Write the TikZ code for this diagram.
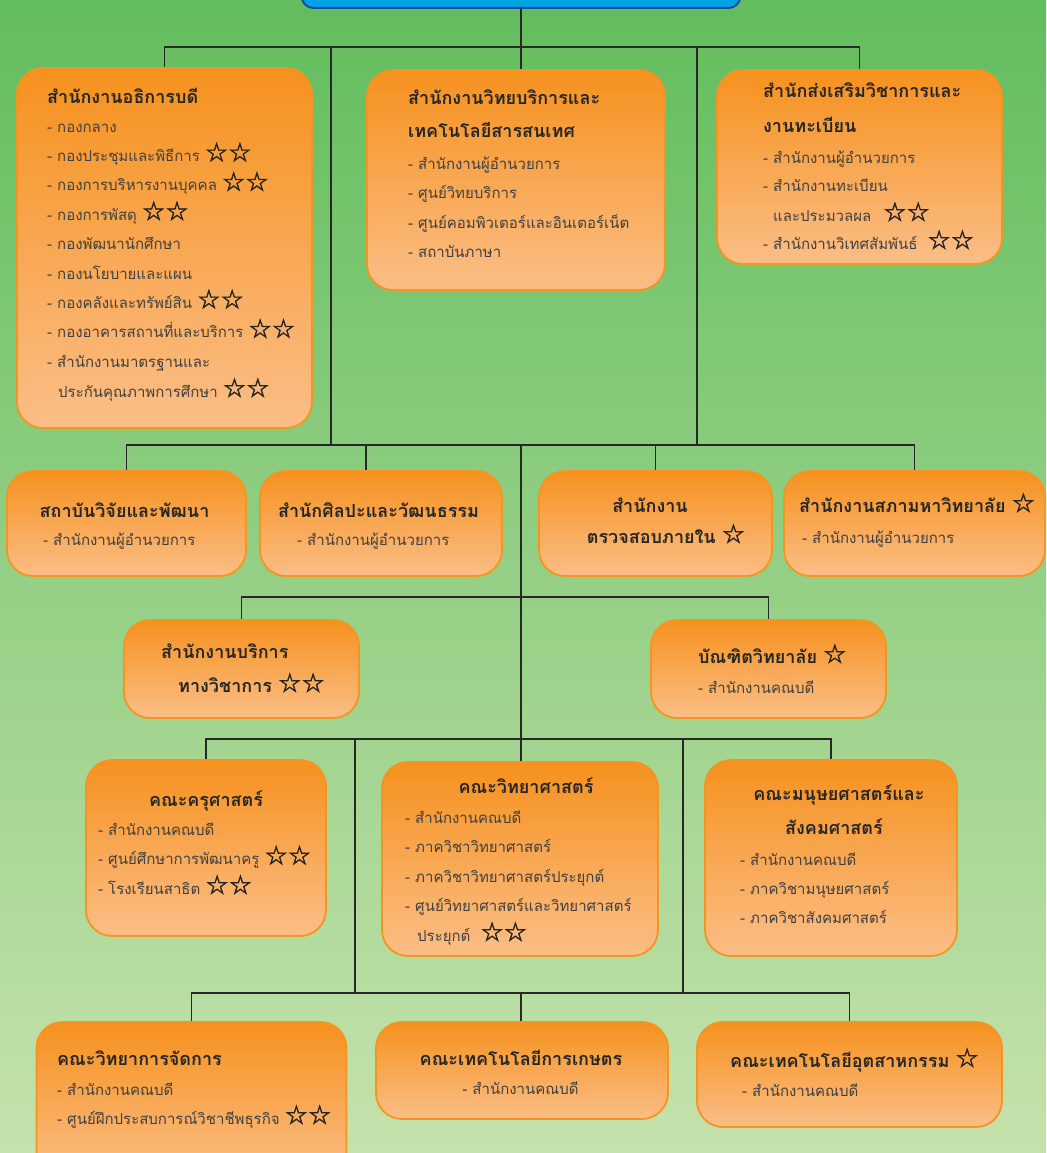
\documentclass[tikz,border=0pt]{standalone}
\usepackage{fontspec}
\usepackage{tikz}
\usetikzlibrary{positioning,calc}
\newfontfamily\thaifont[Script=Thai]{Loma}
\newfontfamily\symfont[FakeBold=2]{DejaVu Sans}
\definecolor{bgtop}{RGB}{98,189,94}
\definecolor{bgbot}{RGB}{198,226,172}
\definecolor{boxtop}{RGB}{246,145,30}
\definecolor{boxbot}{RGB}{251,190,135}
\definecolor{boxline}{RGB}{246,148,32}
\definecolor{rootfill}{RGB}{0,164,226}
\definecolor{rootline}{RGB}{28,74,160}
\definecolor{ink}{RGB}{38,38,38}
\definecolor{inkitem}{RGB}{64,64,64}
\definecolor{wirecol}{RGB}{40,40,40}
\newcommand{\wstar}{{\symfont\fontsize{26}{26}\selectfont\color{ink}☆}}
\newcommand{\twostars}{\wstar\wstar}

\begin{document}
\begin{tikzpicture}[x=1pt,y=-1pt,
  unit/.style={rectangle, rounded corners=26pt, draw=boxline, line width=1.8pt,
    top color=boxtop, bottom color=boxbot, inner sep=0pt},
  head/.style={anchor=base west, inner sep=0pt, text=ink,
    font={\thaifont\bfseries\fontsize{18}{21}\selectfont}},
  item/.style={anchor=base west, inner sep=0pt, text=inkitem,
    font={\thaifont\fontsize{15}{18}\selectfont}},
  wire/.style={draw=wirecol, line width=1.6pt}]
  \useasboundingbox (0,0) rectangle (1046,1153);
  \clip (0,0) rectangle (1046,1153);
  \shade[top color=bgtop, bottom color=bgbot] (0,0) rectangle (1046,1153);

  % top box
  \node[rectangle, rounded corners=12pt, draw=rootline, line width=2pt, fill=rootfill,
    minimum width=439pt, minimum height=40pt] (rector) at (521,-12) {};

  % offices
  \node[unit, minimum width=295pt, minimum height=360pt] (ofp) at (164.5,248) {};
  \node[unit, minimum width=298pt, minimum height=220pt] (arit) at (516,180) {};
  \node[unit, minimum width=285pt, minimum height=194pt] (acad) at (859.5,167) {};
  \node[unit, minimum width=239pt, minimum height=105pt] (rdi) at (126.5,523.5) {};
  \node[unit, minimum width=242pt, minimum height=105pt] (art) at (381,523.5) {};
  \node[unit, minimum width=233pt, minimum height=105pt] (audit) at (655.5,523.5) {};
  \node[unit, minimum width=261pt, minimum height=105pt] (council) at (914.5,523.5) {};
  \node[unit, minimum width=235pt, minimum height=98pt] (aservice) at (241.5,669) {};
  \node[unit, minimum width=235pt, minimum height=98pt] (grad) at (768.5,669) {};
  % faculties
  \node[unit, minimum width=240pt, minimum height=176pt] (edu) at (206,848) {};
  \node[unit, minimum width=276pt, minimum height=194pt] (sci) at (520,859) {};
  \node[unit, minimum width=252pt, minimum height=196pt] (hum) at (831,858) {};
  \node[unit, minimum width=310pt, minimum height=156pt] (mgt) at (191.5,1100) {};
  \node[unit, minimum width=292pt, minimum height=97pt] (agri) at (522,1070.5) {};
  \node[unit, minimum width=305pt, minimum height=105pt] (indus) at (849.5,1074.5) {};

  % connectors
  \coordinate (bus1) at (521,47);
  \coordinate (bus2) at (521,445);
  \coordinate (bus3) at (521,597);
  \coordinate (bus4) at (521,739);
  \coordinate (bus5) at (521,993);
  \coordinate (l1) at (331,47);
  \coordinate (r1) at (697,47);
  \coordinate (artdrop) at (366,445);
  \coordinate (l4) at (355,739);
  \coordinate (r4) at (683,739);
  \draw[wire] (rector.south) -- (bus1);
  \draw[wire] (ofp.north) |- (bus1) -| (acad.north);
  \draw[wire] (bus1) -- (bus1 |- arit.north);
  \draw[wire] (l1) -- (l1 |- bus2);
  \draw[wire] (r1) -- (r1 |- bus2);
  \draw[wire] (rdi.north) |- (bus2) -| (council.north);
  \draw[wire] (artdrop) -- (artdrop |- art.north);
  \draw[wire] (audit.north) -- (audit.north |- bus2);
  \draw[wire] (bus2) -- (bus3);
  \draw[wire] (aservice.north) |- (bus3) -| (grad.north);
  \draw[wire] (bus3) -- (bus4);
  \draw[wire] (edu.north) |- (bus4) -| (hum.north);
  \draw[wire] (bus4) -- (bus4 |- sci.north);
  \draw[wire] (l4) -- (l4 |- bus5);
  \draw[wire] (r4) -- (r4 |- bus5);
  \draw[wire] (mgt.north) |- (bus5) -| (indus.north);
  \draw[wire] (bus5) -- (bus5 |- agri.north);

  % texts
  \node[head] (ofp-t) at (47,103) {สำนักงานอธิการบดี};
  \foreach \t [count=\i] in {- กองกลาง, - กองประชุมและพิธีการ \twostars,
      - กองการบริหารงานบุคคล \twostars, - กองการพัสดุ \twostars, - กองพัฒนานักศึกษา,
      - กองนโยบายและแผน, - กองคลังและทรัพย์สิน \twostars,
      - กองอาคารสถานที่และบริการ \twostars, - สำนักงานมาตรฐานและ}
    \node[item] (ofp-\i) at (47,{132+29.4*(\i-1)}) {\t};
  \node[item] (ofp-10) at (58,397) {ประกันคุณภาพการศึกษา \twostars};

  \node[head] (arit-t1) at (408,105) {สำนักงานวิทยบริการและ};
  \node[head] (arit-t2) at (408,138) {เทคโนโลยีสารสนเทศ};
  \foreach \t [count=\i] in {- สำนักงานผู้อำนวยการ, - ศูนย์วิทยบริการ,
      - ศูนย์คอมพิวเตอร์และอินเตอร์เน็ต, - สถาบันภาษา}
    \node[item] (arit-\i) at (408,{169+29.5*(\i-1)}) {\t};

  \node[head] (acad-t1) at (763,98) {สำนักส่งเสริมวิชาการและ};
  \node[head] (acad-t2) at (763,132) {งานทะเบียน};
  \node[item] (acad-1) at (763,163) {- สำนักงานผู้อำนวยการ};
  \node[item] (acad-2) at (763,191) {- สำนักงานทะเบียน};
  \node[item] (acad-3) at (773,221) {และประมวลผล\hspace{12pt}\twostars};
  \node[item] (acad-4) at (763,249) {- สำนักงานวิเทศสัมพันธ์\hspace{10pt}\twostars};

  \node[head, anchor=base] (rdi-t) at (124.5,517) {สถาบันวิจัยและพัฒนา};
  \node[item] (rdi-1) at (43,545) {- สำนักงานผู้อำนวยการ};
  \node[head, anchor=base] (art-t) at (378.5,517) {สำนักศิลปะและวัฒนธรรม};
  \node[item] (art-1) at (297,545) {- สำนักงานผู้อำนวยการ};
  \node[head, anchor=base] (audit-t1) at (650,512) {สำนักงาน};
  \node[head, anchor=base] (audit-t2) at (666,543) {ตรวจสอบภายใน \wstar};
  \node[head] (council-t) at (799,512) {สำนักงานสภามหาวิทยาลัย \wstar};
  \node[item] (council-1) at (802,543) {- สำนักงานผู้อำนวยการ};

  \node[head] (aservice-t1) at (161,658) {สำนักงานบริการ};
  \node[head] (aservice-t2) at (178,692) {ทางวิชาการ \twostars};
  \node[head] (grad-t) at (698,663) {บัณฑิตวิทยาลัย \wstar};
  \node[item] (grad-1) at (698,693) {- สำนักงานคณบดี};

  \node[head, anchor=base] (edu-t) at (206,806) {คณะครุศาสตร์};
  \foreach \t [count=\i] in {- สำนักงานคณบดี, - ศูนย์ศึกษาการพัฒนาครู \twostars,
      - โรงเรียนสาธิต \twostars}
    \node[item] (edu-\i) at (98,{835+29.5*(\i-1)}) {\t};

  \node[head, anchor=base] (sci-t) at (526,793) {คณะวิทยาศาสตร์};
  \foreach \t [count=\i] in {- สำนักงานคณบดี, - ภาควิชาวิทยาศาสตร์,
      - ภาควิชาวิทยาศาสตร์ประยุกต์, - ศูนย์วิทยาศาสตร์และวิทยาศาสตร์}
    \node[item] (sci-\i) at (405,{823+29.6*(\i-1)}) {\t};
  \node[item] (sci-5) at (417,941) {ประยุกต์\hspace{10pt}\twostars};

  \node[head, anchor=base] (hum-t1) at (839,800) {คณะมนุษยศาสตร์และ};
  \node[head, anchor=base] (hum-t2) at (834,834) {สังคมศาสตร์};
  \foreach \t [count=\i] in {- สำนักงานคณบดี, - ภาควิชามนุษยศาสตร์, - ภาควิชาสังคมศาสตร์}
    \node[item] (hum-\i) at (740,{865+29*(\i-1)}) {\t};

  \node[head] (mgt-t) at (57,1065) {คณะวิทยาการจัดการ};
  \node[item] (mgt-1) at (57,1095) {- สำนักงานคณบดี};
  \node[item] (mgt-2) at (57,1124) {- ศูนย์ฝึกประสบการณ์วิชาชีพธุรกิจ \twostars};
  \node[head, anchor=base] (agri-t) at (521,1065) {คณะเทคโนโลยีการเกษตร};
  \node[item, anchor=base] (agri-1) at (520.5,1094) {- สำนักงานคณบดี};
  \node[head] (indus-t) at (730,1067) {คณะเทคโนโลยีอุตสาหกรรม \wstar};
  \node[item] (indus-1) at (742,1096) {- สำนักงานคณบดี};
\end{tikzpicture}
\end{document}
